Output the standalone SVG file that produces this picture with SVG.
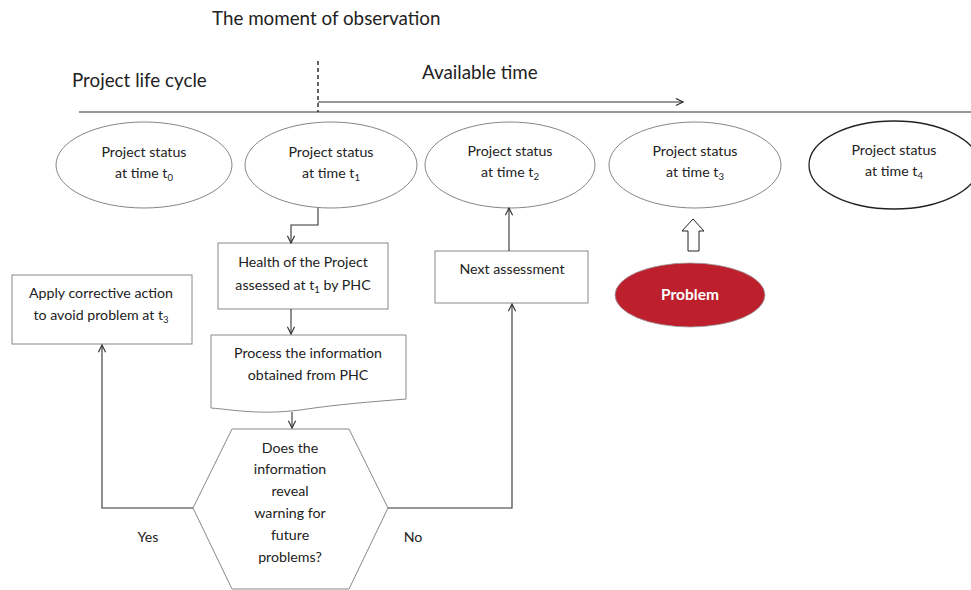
<svg xmlns="http://www.w3.org/2000/svg" width="971" height="590" viewBox="0 0 971 590">
  <style>
    text { font-family: Lato, "Open Sans", "Liberation Sans", sans-serif; fill: #222; }
    .title { font-size: 18.8px; }
    .lbl { font-size: 14.2px; text-anchor: middle; }
    .sub { font-size: 9.5px; }
    .state { fill: #fff; stroke: #777; stroke-width: 0.9; }
    .box { fill: #fff; stroke: #888; stroke-width: 1; }
    .wire { fill: none; stroke: #333; stroke-width: 1.1; }
  </style>
  <defs>
    <marker id="arrow" viewBox="0 0 10 10" refX="9" refY="5" markerWidth="9" markerHeight="9" markerUnits="userSpaceOnUse" orient="auto">
      <path d="M1,1 L9,5 L1,9" fill="none" stroke="#333" stroke-width="1.3"/>
    </marker>
  </defs>

  <!-- timeline header -->
  <g id="header">
    <text class="title" x="212" y="25">The moment of observation</text>
    <text class="title" x="72" y="87">Project life cycle</text>
    <text class="title" x="422" y="79">Available time</text>
    <line x1="79" y1="112" x2="971" y2="112" stroke="#333" stroke-width="1.2"/>
    <line x1="318" y1="61" x2="318" y2="112" stroke="#222" stroke-width="1.4" stroke-dasharray="4,3"/>
  </g>

  <!-- project states along the life cycle -->
  <g id="status-t0">
    <ellipse class="state" cx="144" cy="165" rx="88" ry="43"/>
    <text class="lbl" x="144" y="157">Project status</text>
    <text class="lbl" x="144" y="178">at time t<tspan class="sub" dy="3">0</tspan></text>
  </g>
  <g id="status-t1">
    <ellipse class="state" cx="331" cy="165" rx="86" ry="43"/>
    <text class="lbl" x="331" y="157">Project status</text>
    <text class="lbl" x="331" y="178">at time t<tspan class="sub" dy="3">1</tspan></text>
  </g>
  <g id="status-t2">
    <ellipse class="state" cx="510" cy="165" rx="85" ry="43"/>
    <text class="lbl" x="510" y="156">Project status</text>
    <text class="lbl" x="510" y="177">at time t<tspan class="sub" dy="3">2</tspan></text>
  </g>
  <g id="status-t3">
    <ellipse class="state" cx="695" cy="165" rx="86" ry="43"/>
    <text class="lbl" x="695" y="156">Project status</text>
    <text class="lbl" x="695" y="177">at time t<tspan class="sub" dy="3">3</tspan></text>
  </g>
  <g id="status-t4">
    <ellipse cx="894" cy="165" rx="85" ry="44" fill="#fff" stroke="#222" stroke-width="1.3"/>
    <text class="lbl" x="894" y="155">Project status</text>
    <text class="lbl" x="894" y="176">at time t<tspan class="sub" dy="3">4</tspan></text>
  </g>

  <!-- assessment flow -->
  <g id="assess">
    <rect class="box" x="218" y="243" width="170" height="66"/>
    <text class="lbl" x="303" y="267">Health of the Project</text>
    <text class="lbl" x="303" y="290">assessed at t<tspan class="sub" dy="3">1</tspan><tspan dy="-3"> by PHC</tspan></text>
  </g>
  <g id="process">
    <path class="box" d="M211,335 H406 V399 C370,402 340,404 300,410 C260,415 235,410 211,408 Z"/>
    <text class="lbl" x="308" y="358">Process the information</text>
    <text class="lbl" x="308" y="380">obtained from PHC</text>
  </g>
  <g id="decision">
    <polygon class="box" points="232,429 349,429 388,508 349,589 232,589 193,508"/>
    <text class="lbl" x="290" y="453">Does the</text>
    <text class="lbl" x="290" y="474">information</text>
    <text class="lbl" x="290" y="496">reveal</text>
    <text class="lbl" x="290" y="518">warning for</text>
    <text class="lbl" x="290" y="540">future</text>
    <text class="lbl" x="290" y="562">problems?</text>
  </g>
  <g id="corrective">
    <rect class="box" x="12" y="275" width="180" height="69"/>
    <text class="lbl" x="101" y="298">Apply corrective action</text>
    <text class="lbl" x="101" y="320">to avoid problem at t<tspan class="sub" dy="3">3</tspan></text>
  </g>
  <g id="next">
    <rect class="box" x="435" y="251" width="153" height="52"/>
    <text class="lbl" x="512" y="274">Next assessment</text>
  </g>
  <g id="problem">
    <ellipse cx="690" cy="295" rx="75" ry="32" fill="#bd1f2d" stroke="#999" stroke-width="0.8"/>
    <text x="690" y="300" text-anchor="middle" font-size="15.5" font-weight="bold" style="fill:#fff">Problem</text>
  </g>
  <text class="lbl" x="148" y="542">Yes</text>
  <text class="lbl" x="413" y="542">No</text>

  <!-- connectors -->
  <g id="connectors">
    <line class="wire" x1="318" y1="102" x2="683" y2="102" marker-end="url(#arrow)"/>
    <path class="wire" d="M318,208 V225 H291 V243" marker-end="url(#arrow)"/>
    <line class="wire" x1="291" y1="309" x2="291" y2="334" marker-end="url(#arrow)"/>
    <line class="wire" x1="292" y1="412" x2="292" y2="428" marker-end="url(#arrow)"/>
    <path class="wire" d="M193,508 H102 V345" marker-end="url(#arrow)"/>
    <path class="wire" d="M388,508 H512 V304" marker-end="url(#arrow)"/>
    <line class="wire" x1="509" y1="251" x2="509" y2="208" marker-end="url(#arrow)"/>
    <polygon points="693,219 704,231 699,231 699,251 688,251 688,231 682,231" fill="#fff" stroke="#222" stroke-width="1"/>
  </g>
</svg>
